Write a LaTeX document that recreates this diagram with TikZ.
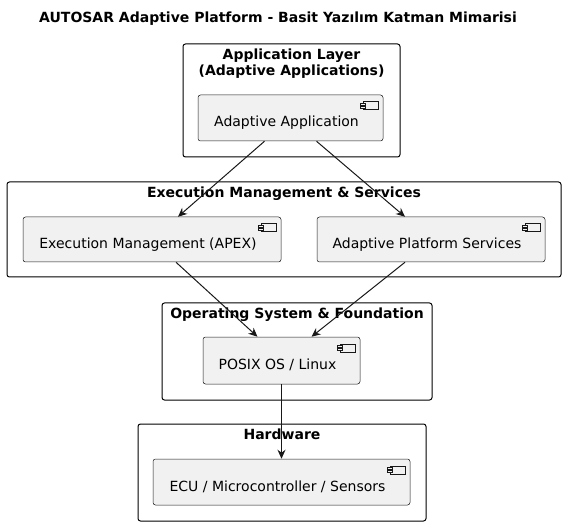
\documentclass[tikz,border=0pt]{standalone}
\usepackage{fontspec}
\setmainfont{DejaVu Sans}
\usetikzlibrary{arrows.meta,positioning}
\definecolor{compfill}{HTML}{F1F1F1}
\definecolor{umlline}{HTML}{181818}
% small component icon in the upper right corner of a box
\newcommand{\umlicon}[1]{%
  \draw[umlline,line width=0.5pt,fill=compfill] ([shift={(-20,7)}]#1.north east) rectangle ([shift={(-5,15)}]#1.north east);
  \draw[umlline,line width=0.5pt,fill=compfill] ([shift={(-23,8.5)}]#1.north east) rectangle ([shift={(-18,10.5)}]#1.north east);
  \draw[umlline,line width=0.5pt,fill=compfill] ([shift={(-23,11.5)}]#1.north east) rectangle ([shift={(-18,13.5)}]#1.north east);}

\begin{document}
\begin{tikzpicture}[x=1pt,y=-1pt,font=\fontsize{14}{16}\selectfont,
  pkg/.style={draw=black,line width=1pt,rounded corners=2.5pt,inner sep=0pt},
  pkgtitle/.style={font=\fontsize{14}{16}\selectfont\bfseries,align=center,inner sep=0pt},
  comp/.style={draw=umlline,line width=0.5pt,fill=compfill,rounded corners=2.5pt,
    text height=21pt,text depth=3pt,inner sep=0pt,execute at end node=\hspace*{8pt}},
  dep/.style={-{Stealth[length=9pt,width=8pt]},umlline,line width=1pt}]
  \useasboundingbox (0,0) rectangle (567,526);
  \node[pkgtitle] (title) at (278,19) {AUTOSAR Adaptive Platform - Basit Yazılım Katman Mimarisi};

  % packages
  \node[pkg,minimum width=217,minimum height=113] (applayer) at (291.5,100.5) {};
  \node[pkgtitle,below=5pt of applayer.north] (applayertitle) {Application Layer\\(Adaptive Applications)};
  \node[pkg,minimum width=554,minimum height=95] (execpkg) at (284,229.5) {};
  \node[pkgtitle,below=5pt of execpkg.north] (execpkgtitle) {Execution Management \& Services};
  \node[pkg,minimum width=270,minimum height=97] (ospkg) at (297,351.5) {};
  \node[pkgtitle,below=5pt of ospkg.north] (ospkgtitle) {Operating System \& Foundation};
  \node[pkg,minimum width=288,minimum height=97] (hwpkg) at (282,472.5) {};
  \node[pkgtitle,below=5pt of hwpkg.north] (hwpkgtitle) {Hardware};

  % components
  \node[comp,minimum width=185,minimum height=46] (aa) at (290.5,118) {Adaptive Application};
  \node[comp,minimum width=258,minimum height=45] (exec) at (152,239.5) {Execution Management (APEX)};
  \node[comp,minimum width=228,minimum height=45] (aps) at (431,239.5) {Adaptive Platform Services};
  \node[comp,minimum width=157,minimum height=47] (posix) at (281.5,360.5) {POSIX OS / Linux};
  \node[comp,minimum width=257,minimum height=46] (ecu) at (281.5,482) {ECU / Microcontroller / Sensors};
  \umlicon{aa}
  \umlicon{exec}
  \umlicon{aps}
  \umlicon{posix}
  \umlicon{ecu}

  % dependencies
  \draw[dep] ([xshift=-26pt]aa.south) -- ([xshift=26pt]exec.north);
  \draw[dep] ([xshift=26pt]aa.south) -- ([xshift=-26pt]aps.north);
  \draw[dep] ([xshift=24pt]exec.south) -- ([xshift=-24pt]posix.north);
  \draw[dep] ([xshift=-26pt]aps.south) -- ([xshift=30pt]posix.north);
  \draw[dep] (posix) -- (ecu);
\end{tikzpicture}
\end{document}
